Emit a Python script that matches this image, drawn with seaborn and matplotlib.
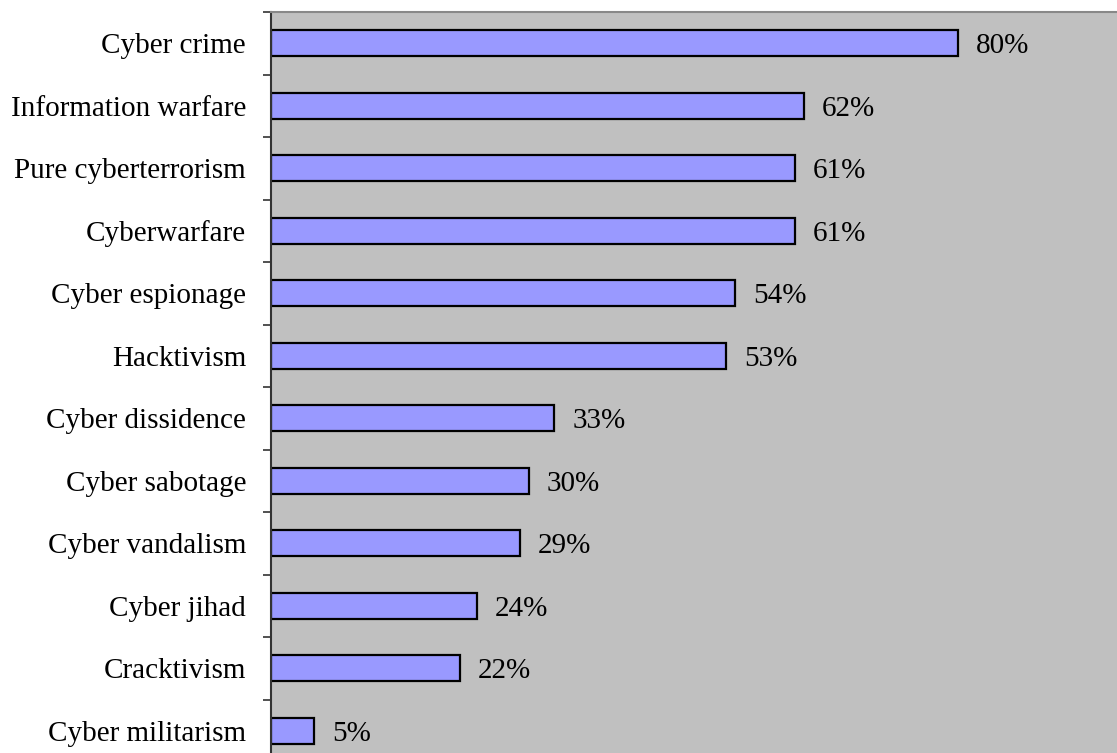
import numpy as np
import pandas as pd
import seaborn as sns
from matplotlib import pyplot as plt

categories = ["Cyber crime", "Information warfare", "Pure cyberterrorism", "Cyberwarfare",
              "Cyber espionage", "Hacktivism", "Cyber dissidence", "Cyber sabotage",
              "Cyber vandalism", "Cyber jihad", "Cracktivism", "Cyber militarism"]
values = [80, 62, 61, 61, 54, 53, 33, 30, 29, 24, 22, 5]

df = pd.DataFrame({"term": categories, "pct": values})

sns.set_style("white")
plt.rcParams['font.family'] = ['Liberation Serif', 'DejaVu Serif']
plt.rcParams['text.color'] = 'black'
plt.rcParams['ytick.labelcolor'] = 'black'

fig = plt.figure(figsize=(11.17, 7.53), dpi=100)
ax = fig.add_axes([271/1117, -9/753, 859/1117, 750/753])
ax.set_facecolor("#C0C0C0")

sns.barplot(x="pct", y="term", data=df, orient="h", color="#9999FF",
            edgecolor="black", linewidth=1.6, width=0.42, saturation=1, ax=ax)

for i, v in enumerate(values):
    ax.annotate(f"{v}%", (v, i), xytext=(13, 0), textcoords="offset points",
                va="center_baseline", ha="left", fontsize=21, color="black")

ax.set_xlim(0, 100)
ax.set_ylim(len(categories) - 0.5, -0.5)
ax.set_xlabel("")
ax.set_ylabel("")
ax.xaxis.set_visible(False)
ax.tick_params(axis="y", which="major", length=0, pad=18, labelsize=21, labelcolor="black")
for lab in ax.get_yticklabels():
    lab.set_verticalalignment("center_baseline")
ax.set_yticks(np.arange(-0.5, len(categories), 1), minor=True)
ax.tick_params(axis="y", which="minor", length=6, width=1.2, color="#333333", left=True)

for s in ["right", "bottom"]:
    ax.spines[s].set_visible(False)
ax.spines["left"].set_color("#333333")
ax.spines["left"].set_linewidth(1.5)
ax.spines["top"].set_color("#888888")
ax.spines["top"].set_linewidth(1.5)

fig.savefig("out.png", dpi=100)
